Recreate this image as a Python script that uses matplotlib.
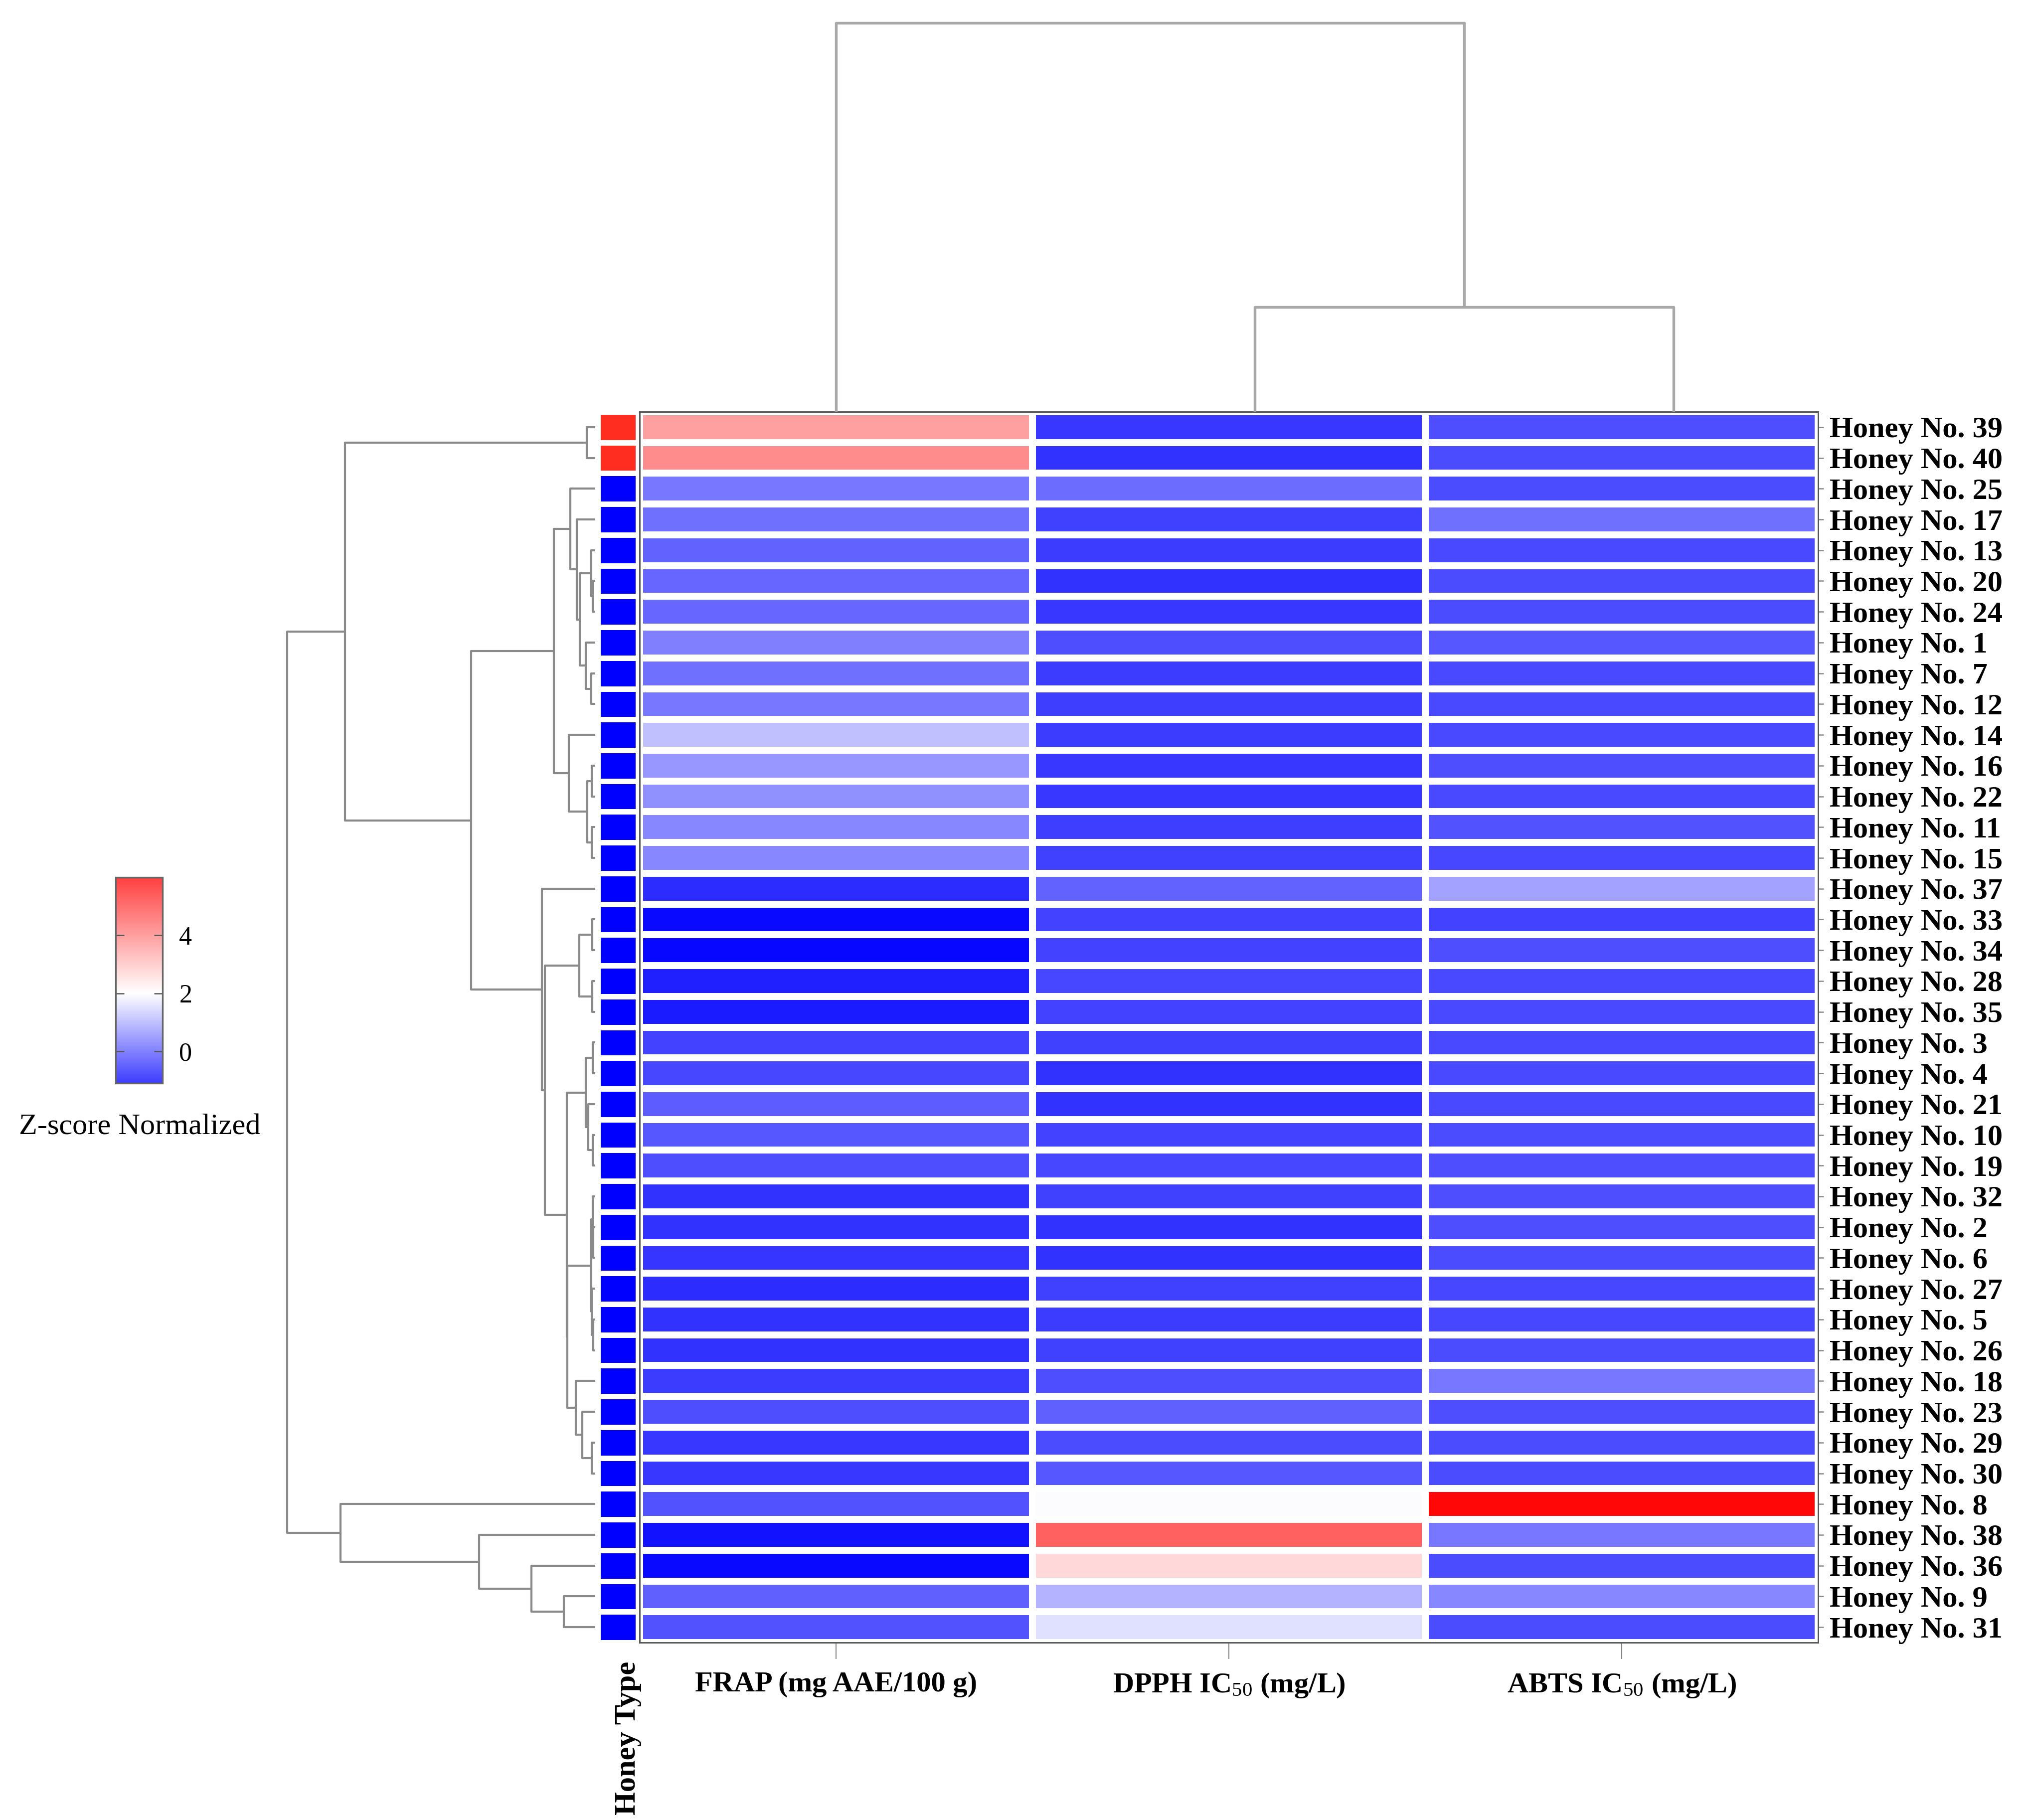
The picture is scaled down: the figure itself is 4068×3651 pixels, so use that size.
import numpy as np
import matplotlib
matplotlib.use("Agg")
import matplotlib.pyplot as plt
from matplotlib.colors import LinearSegmentedColormap, ListedColormap, Normalize
from matplotlib.cm import ScalarMappable

plt.rcParams['font.family'] = ['Liberation Serif', 'DejaVu Serif']
plt.rcParams['mathtext.fontset'] = 'custom'
plt.rcParams['mathtext.rm'] = 'Liberation Serif'
plt.rcParams['mathtext.it'] = 'Liberation Serif:italic'
plt.rcParams['mathtext.bf'] = 'Liberation Serif:bold'

# rows in the clustered order, top to bottom
row_order = [39, 40, 25, 17, 13, 20, 24, 1, 7, 12, 14, 16, 22, 11, 15,
             37, 33, 34, 28, 35, 3, 4, 21, 10, 19, 32, 2, 6, 27, 5, 26,
             18, 23, 29, 30, 8, 38, 36, 9, 31]

col_names = ["FRAP", "DPPH", "ABTS"]
col_labels = ["FRAP (mg AAE/100 g)", "DPPH IC$_{50}$ (mg/L)", "ABTS IC$_{50}$ (mg/L)"]

# z-scores
frap = [3.49, 3.80, 0.36, 0.26, 0.11, 0.16, 0.16, 0.46, 0.26, 0.36, 1.23, 0.75, 0.65, 0.55, 0.55,
        -0.56, -0.98, -1.00, -0.71, -0.76, -0.27, -0.22, 0.02, -0.03, -0.13, -0.47, -0.47, -0.45,
        -0.56, -0.47, -0.47, -0.37, -0.13, -0.42, -0.42, -0.08, -0.86, -0.98, 0.07, -0.08]
dpph = [-0.42, -0.47, 0.21, -0.32, -0.37, -0.47, -0.42, -0.13, -0.37, -0.35, -0.37, -0.42, -0.42, -0.35, -0.32,
        0.12, -0.27, -0.27, -0.22, -0.27, -0.32, -0.47, -0.47, -0.27, -0.22, -0.32, -0.47, -0.47,
        -0.32, -0.37, -0.32, -0.13, 0.07, -0.18, -0.03, 1.96, 4.49, 2.61, 1.09, 1.62]
abts = [-0.13, -0.18, -0.18, 0.26, -0.20, -0.18, -0.18, -0.03, -0.20, -0.20, -0.20, -0.13, -0.20, -0.08, -0.22,
        0.89, -0.27, -0.13, -0.20, -0.20, -0.20, -0.20, -0.20, -0.18, -0.13, -0.13, -0.13, -0.18,
        -0.22, -0.22, -0.18, 0.36, -0.13, -0.18, -0.18, 5.87, 0.36, -0.18, 0.55, -0.18]

# honey type annotation (0 = blue group, 1 = red group)
honey_type = [1, 1] + [0] * 38
type_colors = ['#0000ff', '#ff2d1f']

# row dendrogram: (child, child, height); "mN" = N-th merge
row_merges = [
    ("39", "40", 0.17), ("20", "24", 0.05), ("13", "m1", 0.08), ("7", "12", 0.08),
    ("1", "m3", 0.19), ("m2", "m4", 0.31), ("17", "m5", 0.37), ("25", "m6", 0.50),
    ("16", "22", 0.075), ("11", "15", 0.07), ("m8", "m9", 0.16), ("14", "m10", 0.53),
    ("m7", "m11", 0.83), ("33", "34", 0.06), ("28", "35", 0.06), ("m13", "m14", 0.32),
    ("3", "4", 0.055), ("10", "19", 0.055), ("21", "m17", 0.14), ("m16", "m18", 0.19),
    ("2", "6", 0.04), ("32", "m20", 0.055), ("5", "26", 0.045), ("27", "m22", 0.075),
    ("m21", "m23", 0.085), ("29", "30", 0.07), ("23", "m25", 0.26), ("18", "m26", 0.39),
    ("m24", "m27", 0.56), ("m19", "m28", 0.57), ("m15", "m29", 1.01), ("37", "m30", 1.07),
    ("m12", "m31", 2.49), ("m0", "m32", 5.02), ("9", "31", 0.63), ("36", "m34", 1.28),
    ("38", "m35", 2.33), ("8", "m36", 5.11), ("m33", "m37", 6.18),
]
col_merges = [("DPPH", "ABTS", 2.1), ("FRAP", "m0", 7.8)]

vmin, vmax, vwhite = -1.1, 6.0, 2.0
cb_ticks = [0, 2, 4]

W, H = 4068, 3651


def px_box(x0, y0, x1, y1):
    return [x0 / W, 1 - y1 / H, (x1 - x0) / W, (y1 - y0) / H]


def draw_dendro(ax, merges, leaf_pos, vertical, color, lw):
    pos = {k: (v, 0.0) for k, v in leaf_pos.items()}
    for i, (a, b, h) in enumerate(merges):
        ca, ha = pos[a]
        cb, hb = pos[b]
        if vertical:
            ax.plot([ca, ca, cb, cb], [ha, h, h, hb], color=color, lw=lw,
                    solid_capstyle='butt', clip_on=False)
        else:
            ax.plot([ha, h, h, hb], [ca, ca, cb, cb], color=color, lw=lw,
                    solid_capstyle='butt', clip_on=False)
        pos["m%d" % i] = ((ca + cb) / 2, h)


if __name__ == "__main__":
    fig = plt.figure(figsize=(W / 300, H / 300), dpi=300)

    node = (vwhite - vmin) / (vmax - vmin)
    cmap = LinearSegmentedColormap.from_list(
        "zbwr", [(0, '#0000ff'), (node, '#ffffff'), (1, '#ff0000')])
    cmap_bar = LinearSegmentedColormap.from_list(
        "zbwr_light", [(0, '#3d3dff'), (node, '#ffffff'), (1, '#ff4040')])
    norm = Normalize(vmin=vmin, vmax=vmax)

    data = np.column_stack([frap, dpph, abts])
    n_rows = len(row_order)

    # heatmap
    ax = fig.add_axes(px_box(1283, 826, 3647, 3295))
    ax.pcolormesh(np.arange(4), np.arange(n_rows + 1), data, cmap=cmap, norm=norm,
                  edgecolors='white', linewidth=3.3)
    ax.set_xlim(0, 3)
    ax.set_ylim(n_rows, 0)
    ax.yaxis.tick_right()
    ax.set_yticks(np.arange(n_rows) + 0.5)
    ax.set_yticklabels(["Honey No. %d" % n for n in row_order], fontsize=14.5, fontweight='bold')
    ax.set_xticks(np.arange(3) + 0.5)
    ax.set_xticklabels(col_labels, fontsize=14, fontweight='bold')
    ax.tick_params(axis='y', length=2.6, width=0.6, color='#888888', pad=3)
    ax.tick_params(axis='x', length=8, width=0.5, color='#888888', pad=6)
    for s in ax.spines.values():
        s.set_color('#555555')
        s.set_linewidth(0.7)

    # honey type column
    ax_ann = fig.add_axes(px_box(1199, 826, 1280, 3295))
    ax_ann.pcolormesh(np.arange(2), np.arange(n_rows + 1), np.array(honey_type)[:, None],
                      cmap=ListedColormap(type_colors), vmin=0, vmax=1,
                      edgecolors='white', linewidth=2.2)
    ax_ann.set_xlim(0, 1)
    ax_ann.set_ylim(n_rows, 0)
    ax_ann.set_yticks([])
    ax_ann.set_xticks([0.75])
    ax_ann.set_xticklabels(["Honey Type"], rotation=90, fontsize=14.5, fontweight='bold')
    ax_ann.tick_params(axis='x', length=0, pad=9)
    for s in ax_ann.spines.values():
        s.set_visible(False)

    # row dendrogram
    ax_rd = fig.add_axes(px_box(576, 826, 1194, 3295))
    draw_dendro(ax_rd, row_merges, {str(n): i + 0.5 for i, n in enumerate(row_order)},
                vertical=False, color='#8a8a8a', lw=1.0)
    ax_rd.set_xlim(row_merges[-1][2], 0)
    ax_rd.set_ylim(n_rows, 0)
    ax_rd.axis('off')

    # column dendrogram
    ax_cd = fig.add_axes(px_box(1257, 46, 3777, 826))
    draw_dendro(ax_cd, col_merges, {c: i for i, c in enumerate(col_names)},
                vertical=True, color='#a8a8a8', lw=1.3)
    ax_cd.set_xlim(-0.5, 2.5)
    ax_cd.set_ylim(0, col_merges[-1][2])
    ax_cd.axis('off')

    # colour bar
    cax = fig.add_axes(px_box(232, 1760, 326, 2173))
    cb = fig.colorbar(ScalarMappable(norm=norm, cmap=cmap_bar), cax=cax, ticks=cb_ticks)
    cb.ax.tick_params(direction='in', left=True, right=True, length=4, width=0.6,
                      color='#555555', labelsize=12.5, pad=8)
    cb.outline.set_edgecolor('#666666')
    cb.outline.set_linewidth(0.8)
    fig.text(280 / W, 1 - 2261 / H, "Z-score Normalized", fontsize=14.5, ha='center', va='center')

    plt.savefig('out.png', dpi=300)
